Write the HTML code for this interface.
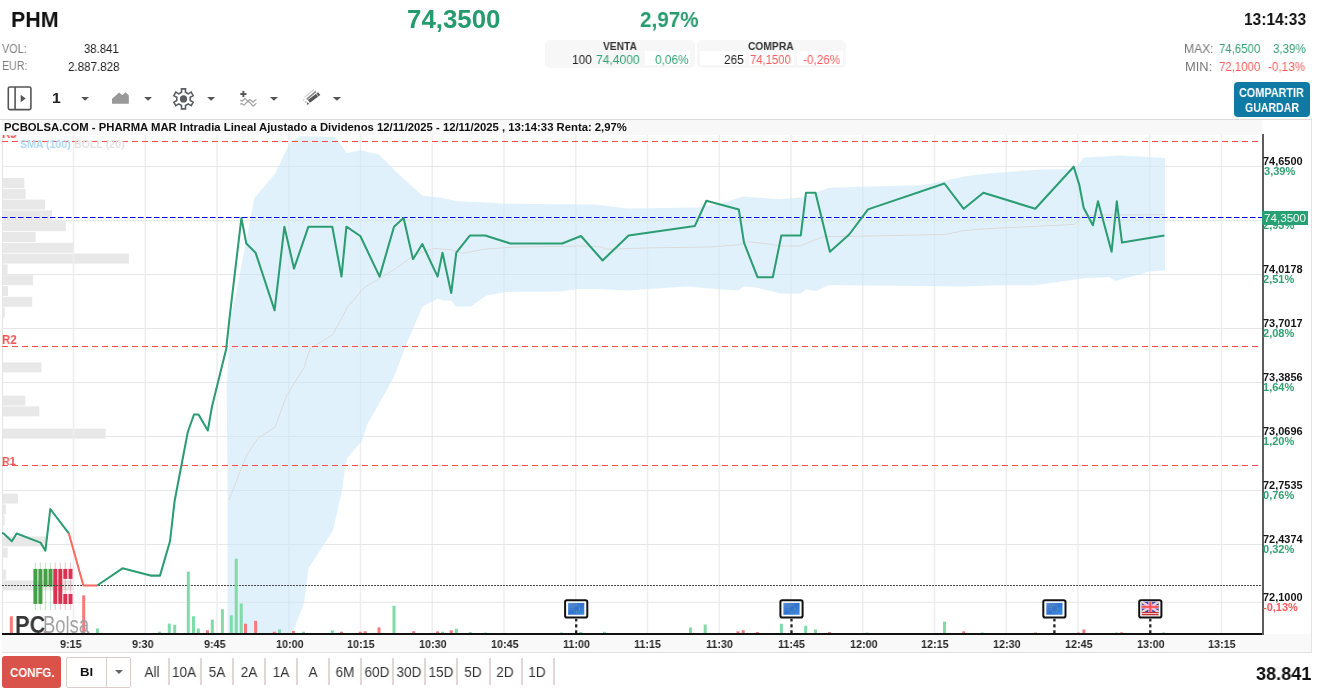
<!DOCTYPE html>
<html><head><meta charset="utf-8"><style>
*{margin:0;padding:0;box-sizing:border-box}
html,body{width:1325px;height:693px;overflow:hidden;background:#fff;font-family:"Liberation Sans",sans-serif;}
body>div{will-change:transform}
</style></head><body>
<!-- venta/compra boxes -->
<div style="position:absolute;left:545px;top:40px;width:150px;height:28px;background:#f7f7f7;border-radius:5px"></div>
<div style="position:absolute;left:697px;top:40px;width:149px;height:28px;background:#f7f7f7;border-radius:5px"></div>
<div style="position:absolute;left:645px;top:51px;width:45px;height:14px;background:#fff"></div>
<div style="position:absolute;left:700px;top:51px;width:45px;height:14px;background:#fff"></div>
<div style="position:absolute;left:749px;top:51px;width:45px;height:14px;background:#fff"></div>
<div style="position:absolute;left:797px;top:51px;width:46px;height:14px;background:#fff"></div>
<div style="position:absolute;left:1234px;top:82px;width:76px;height:35px;background:#0f7ba5;border-radius:4px"></div>
<div style="position:absolute;left:10.67px;top:7.98px;font-size:22.82px;line-height:22.82px;white-space:nowrap;color:#111;transform:scaleX(0.938);transform-origin:0 0;font-weight:bold;">PHM</div>
<div style="position:absolute;left:407.19px;top:6.71px;font-size:25.50px;line-height:25.50px;white-space:nowrap;color:#269b6e;transform:scaleX(1.014);transform-origin:0 0;font-weight:bold;">74,3500</div>
<div style="position:absolute;left:639.88px;top:8.72px;font-size:22.06px;line-height:22.06px;white-space:nowrap;color:#269b6e;transform:scaleX(0.936);transform-origin:0 0;font-weight:bold;">2,97%</div>
<div style="position:absolute;left:1244.02px;top:10.78px;font-size:17.26px;line-height:17.26px;white-space:nowrap;color:#111;transform:scaleX(0.899);transform-origin:0 0;font-weight:bold;">13:14:33</div>
<div style="position:absolute;left:2.35px;top:42.70px;font-size:12.75px;line-height:12.75px;white-space:nowrap;color:#808080;transform:scaleX(0.848);transform-origin:0 0;">VOL:</div>
<div style="position:absolute;left:83.57px;top:42.70px;font-size:12.75px;line-height:12.75px;white-space:nowrap;color:#222;transform:scaleX(0.890);transform-origin:0 0;">38.841</div>
<div style="position:absolute;left:1.53px;top:60.47px;font-size:12.79px;line-height:12.79px;white-space:nowrap;color:#808080;transform:scaleX(0.833);transform-origin:0 0;">EUR:</div>
<div style="position:absolute;left:67.92px;top:60.63px;font-size:12.61px;line-height:12.61px;white-space:nowrap;color:#222;transform:scaleX(0.920);transform-origin:0 0;">2.887.828</div>
<div style="position:absolute;left:602.63px;top:40.95px;font-size:11.05px;line-height:11.05px;white-space:nowrap;color:#333;transform:scaleX(0.924);transform-origin:0 0;font-weight:bold;">VENTA</div>
<div style="position:absolute;left:748.48px;top:41.08px;font-size:10.89px;line-height:10.89px;white-space:nowrap;color:#333;transform:scaleX(0.944);transform-origin:0 0;font-weight:bold;">COMPRA</div>
<div style="position:absolute;left:571.89px;top:53.83px;font-size:12.61px;line-height:12.61px;white-space:nowrap;color:#222;transform:scaleX(0.945);transform-origin:0 0;">100</div>
<div style="position:absolute;left:596.38px;top:53.83px;font-size:12.61px;line-height:12.61px;white-space:nowrap;color:#33a173;transform:scaleX(0.959);transform-origin:0 0;">74,4000</div>
<div style="position:absolute;left:654.84px;top:53.83px;font-size:12.61px;line-height:12.61px;white-space:nowrap;color:#33a173;transform:scaleX(0.939);transform-origin:0 0;">0,06%</div>
<div style="position:absolute;left:723.81px;top:53.83px;font-size:12.61px;line-height:12.61px;white-space:nowrap;color:#222;transform:scaleX(0.941);transform-origin:0 0;">265</div>
<div style="position:absolute;left:750.42px;top:53.83px;font-size:12.61px;line-height:12.61px;white-space:nowrap;color:#ff5a5a;transform:scaleX(0.896);transform-origin:0 0;">74,1500</div>
<div style="position:absolute;left:802.98px;top:53.83px;font-size:12.61px;line-height:12.61px;white-space:nowrap;color:#ff5a5a;transform:scaleX(0.932);transform-origin:0 0;">-0,26%</div>
<div style="position:absolute;left:1184.41px;top:42.62px;font-size:12.50px;line-height:12.50px;white-space:nowrap;color:#777;transform:scaleX(0.968);transform-origin:0 0;">MAX:</div>
<div style="position:absolute;left:1218.72px;top:42.77px;font-size:12.32px;line-height:12.32px;white-space:nowrap;color:#33a173;transform:scaleX(0.926);transform-origin:0 0;">74,6500</div>
<div style="position:absolute;left:1272.76px;top:42.77px;font-size:12.32px;line-height:12.32px;white-space:nowrap;color:#33a173;transform:scaleX(0.937);transform-origin:0 0;">3,39%</div>
<div style="position:absolute;left:1184.84px;top:60.52px;font-size:12.50px;line-height:12.50px;white-space:nowrap;color:#777;transform:scaleX(1.032);transform-origin:0 0;">MIN:</div>
<div style="position:absolute;left:1218.72px;top:60.67px;font-size:12.32px;line-height:12.32px;white-space:nowrap;color:#ff5a5a;transform:scaleX(0.926);transform-origin:0 0;">72,1000</div>
<div style="position:absolute;left:1268.28px;top:60.67px;font-size:12.32px;line-height:12.32px;white-space:nowrap;color:#ff5a5a;transform:scaleX(0.954);transform-origin:0 0;">-0,13%</div>
<div style="position:absolute;left:1239.46px;top:87.43px;font-size:12.61px;line-height:12.61px;white-space:nowrap;color:#fff;transform:scaleX(0.860);transform-origin:0 0;font-weight:bold;">COMPARTIR</div>
<div style="position:absolute;left:1244.87px;top:101.06px;font-size:13.04px;line-height:13.04px;white-space:nowrap;color:#fff;transform:scaleX(0.811);transform-origin:0 0;font-weight:bold;">GUARDAR</div>
<!-- toolbar icons -->
<svg width="360" height="30" style="position:absolute;left:0;top:84px">
<rect x="8.3" y="3" width="22.6" height="22.6" rx="1.5" fill="none" stroke="#555" stroke-width="1.6"/>
<line x1="15.1" y1="3" x2="15.1" y2="25.6" stroke="#555" stroke-width="1.6"/>
<polygon points="20.7,10.8 25.7,14.5 20.7,18.3" fill="#555"/>
<polygon points="81.2,13 89,13 85.1,16.8" fill="#555"/>
<polygon points="112,19.7 112,14.8 119.2,8.6 122.3,11.3 125.6,8.2 128.8,11.5 128.8,19.7" fill="#999"/>
<polygon points="144.2,13 152,13 148.1,16.8" fill="#555"/>
<polygon points="207.1,13 215.1,13 211.1,16.8" fill="#555"/>
<polygon points="269.9,13 278,13 273.95,16.8" fill="#555"/>
<polygon points="332.8,13 341.1,13 336.95,16.8" fill="#555"/>
<path d="M181.50,8.30 L181.50,4.90 L185.50,4.90 L185.50,8.30 L188.22,9.87 L191.16,8.17 L193.16,11.63 L190.22,13.33 L190.22,16.47 L193.16,18.17 L191.16,21.63 L188.22,19.93 L185.50,21.50 L185.50,24.90 L181.50,24.90 L181.50,21.50 L178.78,19.93 L175.84,21.63 L173.84,18.17 L176.78,16.47 L176.78,13.33 L173.84,11.63 L175.84,8.17 L178.78,9.87 Z" fill="none" stroke="#5a5e63" stroke-width="1.6" stroke-linejoin="miter"/>
<circle cx="183.5" cy="14.9" r="3.6" fill="#5a5e63"/>
<rect x="240.3" y="9.1" width="6.2" height="1.9" fill="#555"/>
<rect x="242.45" y="6.9" width="1.9" height="6.2" fill="#555"/>
<polyline points="240.3,16.2 242.1,17.1 245,14.5 247.8,16.9 249.9,15.5 253,18.1 256.4,15.3" fill="none" stroke="#a8a8a8" stroke-width="1.3"/>
<polyline points="240.3,20.4 241.7,19.5 244,21.2 247.8,17.2 249.9,18.6 253,22.1 256.4,19.3" fill="none" stroke="#a8a8a8" stroke-width="1.3"/>
<line x1="304.6" y1="13.3" x2="314.1" y2="5.3" stroke="#d4d4d4" stroke-width="1.3"/>
<line x1="306.6" y1="15.4" x2="316.0" y2="7.3" stroke="#8a8a8a" stroke-width="1.6"/>
<line x1="308.9" y1="17.4" x2="319.2" y2="9.6" stroke="#555" stroke-width="3.6"/>
<line x1="316.8" y1="11.3" x2="317.6" y2="10.7" stroke="#fff" stroke-width="4" opacity="0.5"/>
<polygon points="306.8,20.8 307.3,18.2 309.2,20.0" fill="#555"/>
<circle cx="303.6" cy="16" r="0.9" fill="#ddd"/>
<circle cx="305.7" cy="18" r="0.9" fill="#bbb"/>
</svg>
<div style="position:absolute;left:52.11px;top:90.95px;font-size:14.83px;line-height:14.83px;white-space:nowrap;color:#222;transform:scaleX(1.059);transform-origin:0 0;font-weight:bold;">1</div>
<div style="position:absolute;left:0;top:119px;width:1312px;height:1px;background:#ddd"></div>
<div style="position:absolute;left:1311px;top:119px;width:1px;height:534px;background:#e4e4e4"></div>
<div style="position:absolute;left:2px;top:120px;width:1260px;height:15px;background:#f8f8f8"></div>
<div style="position:absolute;left:2px;top:119px;width:1px;height:534px;background:#e4e4e4"></div>
<div style="position:absolute;left:2px;top:634px;width:1309px;height:18.5px;background:#f9f9f9;border-bottom:1px solid #e2e2e2"></div>
<svg width="1325" height="693" style="position:absolute;left:0;top:0">
<rect x="2.5" y="178" width="21.8" height="10" fill="#e8e8e8"/>
<rect x="2.5" y="188.8" width="23.1" height="10" fill="#e8e8e8"/>
<rect x="2.5" y="199.6" width="42.5" height="10" fill="#e8e8e8"/>
<rect x="2.5" y="210.4" width="49.5" height="10" fill="#e8e8e8"/>
<rect x="2.5" y="221.2" width="63.3" height="10" fill="#e8e8e8"/>
<rect x="2.5" y="232" width="33.2" height="10" fill="#e8e8e8"/>
<rect x="2.5" y="242.8" width="71.3" height="10" fill="#e8e8e8"/>
<rect x="2.5" y="253.6" width="126.4" height="10" fill="#e8e8e8"/>
<rect x="2.5" y="264.4" width="5.1" height="10" fill="#e8e8e8"/>
<rect x="2.5" y="275.2" width="30.4" height="10" fill="#e8e8e8"/>
<rect x="2.5" y="286" width="5.5" height="10" fill="#e8e8e8"/>
<rect x="2.5" y="296.8" width="29.7" height="10" fill="#e8e8e8"/>
<rect x="2.5" y="307.6" width="2.4" height="10" fill="#e8e8e8"/>
<rect x="2.5" y="362.4" width="39.1" height="10" fill="#e8e8e8"/>
<rect x="2.5" y="395.6" width="22.8" height="10" fill="#e8e8e8"/>
<rect x="2.5" y="406.4" width="36.8" height="10" fill="#e8e8e8"/>
<rect x="2.5" y="428.6" width="103.2" height="10" fill="#e8e8e8"/>
<rect x="2.5" y="493.6" width="15.5" height="10" fill="#e8e8e8"/>
<rect x="2.5" y="504.4" width="3.4" height="10" fill="#e8e8e8"/>
<rect x="2.5" y="515.2" width="2.0" height="10" fill="#e8e8e8"/>
<rect x="2.5" y="536.4" width="43.5" height="10" fill="#e8e8e8"/>
<rect x="2.5" y="547.6" width="5.1" height="10" fill="#e8e8e8"/>
<rect x="2.5" y="569.6" width="3.4" height="10" fill="#e8e8e8"/>
<rect x="2.5" y="580.4" width="71.0" height="10" fill="#e8e8e8"/>
<line x1="73.5" y1="135" x2="73.5" y2="634" stroke="#eeeeee" stroke-width="1.5"/>
<line x1="145.25" y1="135" x2="145.25" y2="634" stroke="#eeeeee" stroke-width="1.5"/>
<line x1="217.0" y1="135" x2="217.0" y2="634" stroke="#eeeeee" stroke-width="1.5"/>
<line x1="288.75" y1="135" x2="288.75" y2="634" stroke="#eeeeee" stroke-width="1.5"/>
<line x1="360.5" y1="135" x2="360.5" y2="634" stroke="#eeeeee" stroke-width="1.5"/>
<line x1="432.25" y1="135" x2="432.25" y2="634" stroke="#eeeeee" stroke-width="1.5"/>
<line x1="504.0" y1="135" x2="504.0" y2="634" stroke="#eeeeee" stroke-width="1.5"/>
<line x1="575.75" y1="135" x2="575.75" y2="634" stroke="#eeeeee" stroke-width="1.5"/>
<line x1="647.5" y1="135" x2="647.5" y2="634" stroke="#eeeeee" stroke-width="1.5"/>
<line x1="719.25" y1="135" x2="719.25" y2="634" stroke="#eeeeee" stroke-width="1.5"/>
<line x1="791.0" y1="135" x2="791.0" y2="634" stroke="#eeeeee" stroke-width="1.5"/>
<line x1="862.75" y1="135" x2="862.75" y2="634" stroke="#eeeeee" stroke-width="1.5"/>
<line x1="934.5" y1="135" x2="934.5" y2="634" stroke="#eeeeee" stroke-width="1.5"/>
<line x1="1006.25" y1="135" x2="1006.25" y2="634" stroke="#eeeeee" stroke-width="1.5"/>
<line x1="1078.0" y1="135" x2="1078.0" y2="634" stroke="#eeeeee" stroke-width="1.5"/>
<line x1="1149.75" y1="135" x2="1149.75" y2="634" stroke="#eeeeee" stroke-width="1.5"/>
<line x1="1221.5" y1="135" x2="1221.5" y2="634" stroke="#eeeeee" stroke-width="1.5"/>
<line x1="2" y1="166.4" x2="1262" y2="166.4" stroke="#e6e6e6" stroke-width="1"/>
<line x1="2" y1="220.4" x2="1262" y2="220.4" stroke="#e6e6e6" stroke-width="1"/>
<line x1="2" y1="274.5" x2="1262" y2="274.5" stroke="#e6e6e6" stroke-width="1"/>
<line x1="2" y1="328.5" x2="1262" y2="328.5" stroke="#e6e6e6" stroke-width="1"/>
<line x1="2" y1="382.5" x2="1262" y2="382.5" stroke="#e6e6e6" stroke-width="1"/>
<line x1="2" y1="436.5" x2="1262" y2="436.5" stroke="#e6e6e6" stroke-width="1"/>
<line x1="2" y1="490.5" x2="1262" y2="490.5" stroke="#e6e6e6" stroke-width="1"/>
<line x1="2" y1="544.5" x2="1262" y2="544.5" stroke="#e6e6e6" stroke-width="1"/>
<line x1="2" y1="602.3" x2="1262" y2="602.3" stroke="#e6e6e6" stroke-width="1"/>
<polygon points="227.6,633.0 227.6,500.0 226.7,386.5 230.5,317.3 234.8,300.0 254.4,197.9 275.2,173.4 290.5,141.6 301.0,135.9 335.8,137.3 346.7,153.2 360.3,150.3 379.0,154.6 399.2,174.8 422.3,195.6 442.5,197.9 457.0,201.3 480.0,202.2 508.8,203.7 595.4,204.5 627.1,208.6 699.2,207.4 725.2,202.2 742.5,196.4 780.0,199.3 803.0,197.3 829.0,187.8 924.2,184.9 953.0,179.0 964.6,176.3 987.7,173.4 1039.6,169.6 1075.0,169.0 1083.7,157.5 1121.2,155.5 1165.0,158.0 1165.0,270.6 1150.0,271.4 1115.4,281.0 1109.6,277.2 1086.5,278.0 1034.6,285.3 1000.0,285.3 961.7,286.4 829.0,285.0 816.0,291.0 806.0,289.6 800.2,293.7 780.4,293.6 756.2,287.5 744.0,286.6 738.0,290.6 717.0,289.0 686.8,286.6 626.4,290.6 599.2,289.0 578.0,289.0 560.0,291.5 505.7,292.0 486.0,295.7 471.0,306.6 455.8,306.6 451.3,300.5 443.8,300.5 437.7,298.7 422.6,306.6 407.9,340.4 393.5,377.9 367.5,424.0 361.7,441.3 346.7,458.7 341.5,493.3 332.9,530.8 308.4,568.3 304.0,602.9 292.5,633.2" fill="rgb(205,232,248)" fill-opacity="0.6"/>
<polyline points="229.0,500.0 246.3,455.8 257.9,438.5 275.2,426.9 286.7,395.2 304.0,367.8 309.8,349.0 332.9,334.6 347.3,307.2 364.6,287.3 393.5,270.0 413.7,255.6 433.8,248.4 451.2,249.8 462.7,253.3 485.8,249.0 514.6,247.0 583.8,246.0 601.2,247.0 607.0,249.2 653.0,247.8 710.8,247.0 739.6,244.6 748.3,241.7 768.5,244.0 780.0,246.0 800.2,246.0 806.0,243.5 823.3,236.8 944.4,234.5 964.6,230.5 982.0,229.0 1074.2,224.4 1079.3,219.5 1083.7,215.2 1165.0,214.6" fill="none" stroke="#dadada" stroke-width="1"/>
<g>
<rect x="34.8" y="562.4" width="1.2" height="47.6" fill="#3c9a3c" opacity="0.25"/>
<rect x="33.4" y="568.9" width="4" height="35" fill="#45a045"/>
<rect x="39.8" y="562.4" width="1.2" height="47.6" fill="#3c9a3c" opacity="0.25"/>
<rect x="38.4" y="568.9" width="4" height="35" fill="#45a045"/>
<rect x="44.9" y="562.4" width="1.2" height="47.6" fill="#3c9a3c" opacity="0.25"/>
<rect x="43.5" y="568.9" width="4" height="17.7" fill="#45a045"/>
<rect x="49.9" y="562.4" width="1.2" height="47.6" fill="#3c9a3c" opacity="0.25"/>
<rect x="48.5" y="568.9" width="4" height="17.7" fill="#45a045"/>
<rect x="54.699999999999996" y="562.4" width="1.2" height="47.6" fill="#e0304a" opacity="0.25"/>
<rect x="53.3" y="568.9" width="4" height="35" fill="#dc3050"/>
<rect x="59.699999999999996" y="562.4" width="1.2" height="47.6" fill="#e0304a" opacity="0.25"/>
<rect x="58.3" y="568.9" width="4" height="35" fill="#dc3050"/>
<rect x="64.7" y="562.4" width="1.2" height="47.6" fill="#e0304a" opacity="0.25"/>
<rect x="63.3" y="568.9" width="4" height="10" fill="#dc3050"/>
<rect x="63.3" y="594" width="4" height="10" fill="#dc3050"/>
<rect x="69.9" y="562.4" width="1.2" height="47.6" fill="#e0304a" opacity="0.25"/>
<rect x="68.5" y="568.9" width="4" height="10" fill="#dc3050"/>
<rect x="68.5" y="594" width="4" height="10" fill="#dc3050"/>
</g>
<line x1="2" y1="141.5" x2="1262" y2="141.5" stroke="#ff4d4d" stroke-width="1" stroke-dasharray="6,4"/>
<line x1="2" y1="346.5" x2="1262" y2="346.5" stroke="#ff4d4d" stroke-width="1" stroke-dasharray="6,4"/>
<line x1="2" y1="465.5" x2="1262" y2="465.5" stroke="#ff4d4d" stroke-width="1" stroke-dasharray="6,4"/>
<line x1="2" y1="217.5" x2="1262" y2="217.5" stroke="#0000ff" stroke-width="1" stroke-dasharray="5.5,2.5"/>
<line x1="2" y1="585.5" x2="1262" y2="585.5" stroke="#4a4a4a" stroke-width="1" stroke-dasharray="2,1"/>
<rect x="9.8" y="616.3" width="3" height="17.7" fill="#f97a7a"/>
<rect x="43.8" y="631" width="3" height="3.0" fill="#f97a7a"/>
<rect x="47.9" y="632" width="3" height="2.0" fill="#7fdca8"/>
<rect x="82.2" y="595.3" width="3" height="38.7" fill="#f97a7a"/>
<rect x="96.0" y="628.5" width="3" height="5.5" fill="#7fdca8"/>
<rect x="158.0" y="631.7" width="3" height="2.3" fill="#7fdca8"/>
<rect x="167.8" y="623.6" width="3" height="10.4" fill="#7fdca8"/>
<rect x="173.2" y="624.8" width="3" height="9.2" fill="#7fdca8"/>
<rect x="186.8" y="571.6" width="3" height="62.4" fill="#7fdca8"/>
<rect x="192.0" y="616.3" width="3" height="17.7" fill="#7fdca8"/>
<rect x="196.8" y="628.5" width="3" height="5.5" fill="#7fdca8"/>
<rect x="205.9" y="630.3" width="3" height="3.7" fill="#f97a7a"/>
<rect x="210.8" y="619.6" width="3" height="14.4" fill="#7fdca8"/>
<rect x="220.9" y="609.2" width="3" height="24.8" fill="#7fdca8"/>
<rect x="229.8" y="615.3" width="3" height="18.7" fill="#7fdca8"/>
<rect x="234.7" y="558.7" width="3" height="75.3" fill="#7fdca8"/>
<rect x="239.7" y="603.5" width="3" height="30.5" fill="#7fdca8"/>
<rect x="244.0" y="623.7" width="3" height="10.3" fill="#f97a7a"/>
<rect x="254.1" y="620.8" width="3" height="13.2" fill="#f97a7a"/>
<rect x="272.8" y="631.7" width="3" height="2.3" fill="#f97a7a"/>
<rect x="278.0" y="629.4" width="3" height="4.6" fill="#7fdca8"/>
<rect x="291.9" y="630.9" width="3" height="3.1" fill="#f97a7a"/>
<rect x="302.0" y="631.7" width="3" height="2.3" fill="#7fdca8"/>
<rect x="330.8" y="630.3" width="3" height="3.7" fill="#7fdca8"/>
<rect x="340.0" y="631.7" width="3" height="2.3" fill="#f97a7a"/>
<rect x="358.8" y="631.7" width="3" height="2.3" fill="#f97a7a"/>
<rect x="363.7" y="631.2" width="3" height="2.8" fill="#f97a7a"/>
<rect x="377.5" y="627.4" width="3" height="6.6" fill="#f97a7a"/>
<rect x="392.5" y="605.8" width="3" height="28.2" fill="#7fdca8"/>
<rect x="412.2" y="631.2" width="3" height="2.8" fill="#f97a7a"/>
<rect x="436.1" y="631.4" width="3" height="2.6" fill="#f97a7a"/>
<rect x="441.0" y="631.7" width="3" height="2.3" fill="#7fdca8"/>
<rect x="449.7" y="630.3" width="3" height="3.7" fill="#f97a7a"/>
<rect x="454.8" y="628.8" width="3" height="5.2" fill="#7fdca8"/>
<rect x="468.7" y="632" width="3" height="2.0" fill="#7fdca8"/>
<rect x="483.9" y="632.5" width="3" height="1.5" fill="#7fdca8"/>
<rect x="559.9" y="632.5" width="3" height="1.5" fill="#7fdca8"/>
<rect x="579.2" y="632" width="3" height="2.0" fill="#7fdca8"/>
<rect x="603.0" y="631.8" width="3" height="2.2" fill="#7fdca8"/>
<rect x="689.0" y="627.5" width="3" height="6.5" fill="#7fdca8"/>
<rect x="703.7" y="624.5" width="3" height="9.5" fill="#7fdca8"/>
<rect x="736.5" y="631.3" width="3" height="2.7" fill="#f97a7a"/>
<rect x="741.7" y="630.2" width="3" height="3.8" fill="#f97a7a"/>
<rect x="755.8" y="632" width="3" height="2.0" fill="#f97a7a"/>
<rect x="779.9" y="623.8" width="3" height="10.2" fill="#7fdca8"/>
<rect x="804.2" y="625.7" width="3" height="8.3" fill="#7fdca8"/>
<rect x="813.9" y="629.5" width="3" height="4.5" fill="#7fdca8"/>
<rect x="827.9" y="632" width="3" height="2.0" fill="#f97a7a"/>
<rect x="865.7" y="632.5" width="3" height="1.5" fill="#7fdca8"/>
<rect x="943.0" y="621.6" width="3" height="12.4" fill="#7fdca8"/>
<rect x="962.2" y="631.3" width="3" height="2.7" fill="#f97a7a"/>
<rect x="980.8" y="632.5" width="3" height="1.5" fill="#7fdca8"/>
<rect x="1034.0" y="632.5" width="3" height="1.5" fill="#f97a7a"/>
<rect x="1077.0" y="632.5" width="3" height="1.5" fill="#f97a7a"/>
<rect x="1082.4" y="629.5" width="3" height="4.5" fill="#f97a7a"/>
<rect x="1115.0" y="632.5" width="3" height="1.5" fill="#7fdca8"/>
<rect x="1119.9" y="632.3" width="3" height="1.7" fill="#f97a7a"/>
<rect x="1162.3" y="632.3" width="3" height="1.7" fill="#7fdca8"/>
<polyline points="2.0,533.0 3.7,533.5 11.8,541.3 16.7,533.5 40.5,542.6 45.4,550.7 50.3,509.0 68.8,533.3" fill="none" stroke="#2c9d72" stroke-width="2.05" stroke-linejoin="round"/>
<polyline points="68.8,533.3 83.4,585.5 97.2,585.5" fill="none" stroke="#f86a62" stroke-width="2.05" stroke-linejoin="round"/>
<polyline points="97.2,585.5 122.5,568.3 150.5,575.6 160.0,575.6 170.0,541.3 174.6,501.0 187.8,432.0 194.0,414.5 198.5,414.5 207.8,430.5 212.0,406.5 226.2,349.0 229.6,317.3 241.4,218.0 246.3,243.5 255.6,252.7 274.6,310.4 284.4,226.7 294.0,268.6 308.4,226.7 332.3,226.7 341.5,276.6 346.4,226.7 360.3,236.0 379.6,276.6 394.0,226.7 403.6,218.0 413.0,259.3 422.3,244.0 437.6,276.6 442.5,252.7 451.2,293.0 456.3,252.7 470.0,235.4 485.2,235.4 510.3,243.5 562.2,243.5 581.0,236.0 602.6,260.5 628.6,235.4 694.9,225.9 706.4,200.8 738.8,209.4 744.0,242.6 757.5,277.2 772.8,277.2 781.4,235.4 800.8,235.4 806.0,192.7 815.5,192.7 829.9,251.8 849.2,234.5 868.0,209.4 944.4,183.5 963.7,208.8 983.4,192.7 1035.3,208.8 1073.7,166.7 1079.3,184.9 1083.7,208.0 1092.9,225.3 1098.0,201.3 1111.6,251.8 1116.8,201.3 1122.0,242.6 1164.4,235.4" fill="none" stroke="#2c9d72" stroke-width="2.05" stroke-linejoin="round"/>
<rect x="575.0500000000001" y="618.8" width="2.3" height="2.6000000000000227" fill="#222"/><rect x="575.0500000000001" y="624.3" width="2.3" height="3.1000000000000227" fill="#222"/><rect x="575.0500000000001" y="630.3" width="2.3" height="3.2000000000000455" fill="#222"/><rect x="565.1" y="600.2" width="22.2" height="17.3" rx="1.8" fill="#fff" stroke="#111" stroke-width="2"/><defs><linearGradient id="eu576" x1="0" y1="0" x2="1" y2="1"><stop offset="0" stop-color="#5d8fd8"/><stop offset="0.5" stop-color="#2f72cf"/><stop offset="1" stop-color="#3d8fe8"/></linearGradient></defs><rect x="568.1" y="602.9" width="16.2" height="11.85" fill="url(#eu576)"/><circle cx="576.2" cy="608.6" r="3.4" fill="none" stroke="#b8c060" stroke-width="0.7" stroke-dasharray="1,1.2" opacity="0.8"/>
<rect x="790.35" y="618.8" width="2.3" height="2.6000000000000227" fill="#222"/><rect x="790.35" y="624.3" width="2.3" height="3.1000000000000227" fill="#222"/><rect x="790.35" y="630.3" width="2.3" height="3.2000000000000455" fill="#222"/><rect x="780.4" y="600.2" width="22.2" height="17.3" rx="1.8" fill="#fff" stroke="#111" stroke-width="2"/><defs><linearGradient id="eu791" x1="0" y1="0" x2="1" y2="1"><stop offset="0" stop-color="#5d8fd8"/><stop offset="0.5" stop-color="#2f72cf"/><stop offset="1" stop-color="#3d8fe8"/></linearGradient></defs><rect x="783.4" y="602.9" width="16.2" height="11.85" fill="url(#eu791)"/><circle cx="791.5" cy="608.6" r="3.4" fill="none" stroke="#b8c060" stroke-width="0.7" stroke-dasharray="1,1.2" opacity="0.8"/>
<rect x="1053.25" y="618.8" width="2.3" height="2.6000000000000227" fill="#222"/><rect x="1053.25" y="624.3" width="2.3" height="3.1000000000000227" fill="#222"/><rect x="1053.25" y="630.3" width="2.3" height="3.2000000000000455" fill="#222"/><rect x="1043.3000000000002" y="600.2" width="22.2" height="17.3" rx="1.8" fill="#fff" stroke="#111" stroke-width="2"/><defs><linearGradient id="eu1054" x1="0" y1="0" x2="1" y2="1"><stop offset="0" stop-color="#5d8fd8"/><stop offset="0.5" stop-color="#2f72cf"/><stop offset="1" stop-color="#3d8fe8"/></linearGradient></defs><rect x="1046.3000000000002" y="602.9" width="16.2" height="11.85" fill="url(#eu1054)"/><circle cx="1054.4" cy="608.6" r="3.4" fill="none" stroke="#b8c060" stroke-width="0.7" stroke-dasharray="1,1.2" opacity="0.8"/>
<rect x="1149.1499999999999" y="618.8" width="2.3" height="2.6000000000000227" fill="#222"/><rect x="1149.1499999999999" y="624.3" width="2.3" height="3.1000000000000227" fill="#222"/><rect x="1149.1499999999999" y="630.3" width="2.3" height="3.2000000000000455" fill="#222"/><rect x="1139.2" y="600.2" width="22.2" height="17.3" rx="1.8" fill="#fff" stroke="#111" stroke-width="2"/><rect x="1141.7" y="601.8" width="17.0" height="10.4" fill="#2f4fa8"/><line x1="1141.7" y1="601.8" x2="1158.7" y2="612.2" stroke="#f4d0d0" stroke-width="2.2"/><line x1="1158.7" y1="601.8" x2="1141.7" y2="612.2" stroke="#f4d0d0" stroke-width="2.2"/><rect x="1141.7" y="605.2" width="17.0" height="3.4" fill="#fbe"/><rect x="1148.3999999999999" y="601.8" width="3.8" height="10.4" fill="#fbe"/><rect x="1141.7" y="605.9" width="17.0" height="2" fill="#f55"/><rect x="1149.2" y="601.8" width="2.2" height="10.4" fill="#f55"/><rect x="1141.7" y="612" width="17.0" height="1.3" fill="#c33"/><rect x="1141.7" y="614.1" width="17.0" height="1.2" fill="#b22"/>
</svg>
<div style="position:absolute;left:1261.6px;top:133.5px;width:1.7px;height:500.5px;background:#5c5c5c"></div>
<div style="position:absolute;left:2px;top:633px;width:1260px;height:1.8px;background:#111"></div>
<div style="position:absolute;left:19.89px;top:137.65px;font-size:11.63px;line-height:11.63px;white-space:nowrap;color:#aad9f7;transform:scaleX(0.908);transform-origin:0 0;font-weight:bold;">SMA (100)</div>
<div style="position:absolute;left:74.19px;top:137.65px;font-size:11.63px;line-height:11.63px;white-space:nowrap;color:#e2e2e2;transform:scaleX(0.913);transform-origin:0 0;font-weight:bold;">BOLL (20)</div>
<div style="position:absolute;left:1.54px;top:129.23px;font-size:11.89px;line-height:11.89px;white-space:nowrap;color:#f05555;transform:scaleX(0.959);transform-origin:0 0;font-weight:bold;">R3</div>
<div style="position:absolute;left:2px;top:120px;width:1260px;height:15px;background:#f8f8f8"></div>
<div style="position:absolute;left:3.74px;top:121.95px;font-size:11.05px;line-height:11.05px;white-space:nowrap;color:#111;transform:scaleX(1.022);transform-origin:0 0;font-weight:bold;">PCBOLSA.COM - PHARMA MAR Intradia Lineal Ajustado a Dividenos 12/11/2025 - 12/11/2025 , 13:14:33 Renta: 2,97%</div>
<div style="position:absolute;left:1.53px;top:334.37px;font-size:12.32px;line-height:12.32px;white-space:nowrap;color:#f05555;transform:scaleX(0.929);transform-origin:0 0;font-weight:bold;">R2</div>
<div style="position:absolute;left:1.58px;top:455.03px;font-size:11.77px;line-height:11.77px;white-space:nowrap;color:#f05555;transform:scaleX(0.912);transform-origin:0 0;font-weight:bold;">R1</div>
<div style="position:absolute;left:14.74px;top:613.24px;font-size:23.93px;line-height:23.93px;white-space:nowrap;color:#383838;transform:scaleX(0.913);transform-origin:0 0;font-weight:bold;">PC</div>
<div style="position:absolute;left:43.29px;top:613.06px;font-size:24.14px;line-height:24.14px;white-space:nowrap;color:#a0a0a0;transform:scaleX(0.764);transform-origin:0 0;">Bolsa</div>
<div style="position:absolute;left:1263.55px;top:165.78px;font-size:10.89px;line-height:10.89px;font-weight:bold;color:#33a173;white-space:nowrap;transform:scaleX(1.013);transform-origin:0 0">3,39%</div>
<div style="position:absolute;left:1263.33px;top:155.68px;font-size:10.89px;line-height:10.89px;font-weight:bold;color:#151515;white-space:nowrap;transform:scaleX(1.007);transform-origin:0 0">74,6500</div>
<div style="position:absolute;left:1263.41px;top:219.78px;font-size:10.89px;line-height:10.89px;font-weight:bold;color:#33a173;white-space:nowrap;transform:scaleX(1.013);transform-origin:0 0">2,93%</div>
<div style="position:absolute;left:1263.33px;top:209.68px;font-size:10.89px;line-height:10.89px;font-weight:bold;color:#151515;white-space:nowrap;transform:scaleX(1.007);transform-origin:0 0">74,3500</div>
<div style="position:absolute;left:1263.41px;top:273.88px;font-size:10.89px;line-height:10.89px;font-weight:bold;color:#33a173;white-space:nowrap;transform:scaleX(1.013);transform-origin:0 0">2,51%</div>
<div style="position:absolute;left:1263.33px;top:263.78px;font-size:10.89px;line-height:10.89px;font-weight:bold;color:#151515;white-space:nowrap;transform:scaleX(1.007);transform-origin:0 0">74,0178</div>
<div style="position:absolute;left:1263.41px;top:327.88px;font-size:10.89px;line-height:10.89px;font-weight:bold;color:#33a173;white-space:nowrap;transform:scaleX(1.013);transform-origin:0 0">2,08%</div>
<div style="position:absolute;left:1263.33px;top:317.78px;font-size:10.89px;line-height:10.89px;font-weight:bold;color:#151515;white-space:nowrap;transform:scaleX(1.007);transform-origin:0 0">73,7017</div>
<div style="position:absolute;left:1263.11px;top:381.88px;font-size:10.89px;line-height:10.89px;font-weight:bold;color:#33a173;white-space:nowrap;transform:scaleX(1.013);transform-origin:0 0">1,64%</div>
<div style="position:absolute;left:1263.33px;top:371.78px;font-size:10.89px;line-height:10.89px;font-weight:bold;color:#151515;white-space:nowrap;transform:scaleX(1.007);transform-origin:0 0">73,3856</div>
<div style="position:absolute;left:1263.11px;top:435.88px;font-size:10.89px;line-height:10.89px;font-weight:bold;color:#33a173;white-space:nowrap;transform:scaleX(1.013);transform-origin:0 0">1,20%</div>
<div style="position:absolute;left:1263.33px;top:425.78px;font-size:10.89px;line-height:10.89px;font-weight:bold;color:#151515;white-space:nowrap;transform:scaleX(1.007);transform-origin:0 0">73,0696</div>
<div style="position:absolute;left:1263.36px;top:489.88px;font-size:10.89px;line-height:10.89px;font-weight:bold;color:#33a173;white-space:nowrap;transform:scaleX(1.013);transform-origin:0 0">0,76%</div>
<div style="position:absolute;left:1263.33px;top:479.78px;font-size:10.89px;line-height:10.89px;font-weight:bold;color:#151515;white-space:nowrap;transform:scaleX(1.007);transform-origin:0 0">72,7535</div>
<div style="position:absolute;left:1263.36px;top:543.88px;font-size:10.89px;line-height:10.89px;font-weight:bold;color:#33a173;white-space:nowrap;transform:scaleX(1.013);transform-origin:0 0">0,32%</div>
<div style="position:absolute;left:1263.33px;top:533.78px;font-size:10.89px;line-height:10.89px;font-weight:bold;color:#151515;white-space:nowrap;transform:scaleX(1.007);transform-origin:0 0">72,4374</div>
<div style="position:absolute;left:1263.37px;top:601.68px;font-size:10.89px;line-height:10.89px;font-weight:bold;color:#ff5a5a;white-space:nowrap;transform:scaleX(1.013);transform-origin:0 0">-0,13%</div>
<div style="position:absolute;left:1263.33px;top:591.58px;font-size:10.89px;line-height:10.89px;font-weight:bold;color:#151515;white-space:nowrap;transform:scaleX(1.007);transform-origin:0 0">72,1000</div>
<div style="position:absolute;left:1261.5px;top:211px;width:46.3px;height:14.1px;background:#27a073"></div>
<div style="position:absolute;left:1263.71px;top:213.67px;font-size:10.32px;line-height:10.32px;white-space:nowrap;color:#f4fbf8;transform:scaleX(1.128);transform-origin:0 0;">74,3500</div>
<div style="position:absolute;left:60.47px;top:638.17px;font-size:11.60px;line-height:11.60px;font-weight:bold;color:#262626;white-space:nowrap;transform:scaleX(0.931);transform-origin:0 0;text-shadow:0 0 2px #fff,0 0 2px #fff">9:15</div>
<div style="position:absolute;left:132.22px;top:638.17px;font-size:11.60px;line-height:11.60px;font-weight:bold;color:#262626;white-space:nowrap;transform:scaleX(0.931);transform-origin:0 0;text-shadow:0 0 2px #fff,0 0 2px #fff">9:30</div>
<div style="position:absolute;left:203.97px;top:638.17px;font-size:11.60px;line-height:11.60px;font-weight:bold;color:#262626;white-space:nowrap;transform:scaleX(0.931);transform-origin:0 0;text-shadow:0 0 2px #fff,0 0 2px #fff">9:45</div>
<div style="position:absolute;left:275.72px;top:638.17px;font-size:11.60px;line-height:11.60px;font-weight:bold;color:#262626;white-space:nowrap;transform:scaleX(0.931);transform-origin:0 0;text-shadow:0 0 2px #fff,0 0 2px #fff">10:00</div>
<div style="position:absolute;left:347.47px;top:638.17px;font-size:11.60px;line-height:11.60px;font-weight:bold;color:#262626;white-space:nowrap;transform:scaleX(0.931);transform-origin:0 0;text-shadow:0 0 2px #fff,0 0 2px #fff">10:15</div>
<div style="position:absolute;left:419.22px;top:638.17px;font-size:11.60px;line-height:11.60px;font-weight:bold;color:#262626;white-space:nowrap;transform:scaleX(0.931);transform-origin:0 0;text-shadow:0 0 2px #fff,0 0 2px #fff">10:30</div>
<div style="position:absolute;left:490.97px;top:638.17px;font-size:11.60px;line-height:11.60px;font-weight:bold;color:#262626;white-space:nowrap;transform:scaleX(0.931);transform-origin:0 0;text-shadow:0 0 2px #fff,0 0 2px #fff">10:45</div>
<div style="position:absolute;left:562.72px;top:638.17px;font-size:11.60px;line-height:11.60px;font-weight:bold;color:#262626;white-space:nowrap;transform:scaleX(0.931);transform-origin:0 0;text-shadow:0 0 2px #fff,0 0 2px #fff">11:00</div>
<div style="position:absolute;left:634.47px;top:638.17px;font-size:11.60px;line-height:11.60px;font-weight:bold;color:#262626;white-space:nowrap;transform:scaleX(0.931);transform-origin:0 0;text-shadow:0 0 2px #fff,0 0 2px #fff">11:15</div>
<div style="position:absolute;left:706.22px;top:638.17px;font-size:11.60px;line-height:11.60px;font-weight:bold;color:#262626;white-space:nowrap;transform:scaleX(0.931);transform-origin:0 0;text-shadow:0 0 2px #fff,0 0 2px #fff">11:30</div>
<div style="position:absolute;left:777.97px;top:638.17px;font-size:11.60px;line-height:11.60px;font-weight:bold;color:#262626;white-space:nowrap;transform:scaleX(0.931);transform-origin:0 0;text-shadow:0 0 2px #fff,0 0 2px #fff">11:45</div>
<div style="position:absolute;left:849.72px;top:638.17px;font-size:11.60px;line-height:11.60px;font-weight:bold;color:#262626;white-space:nowrap;transform:scaleX(0.931);transform-origin:0 0;text-shadow:0 0 2px #fff,0 0 2px #fff">12:00</div>
<div style="position:absolute;left:921.47px;top:638.17px;font-size:11.60px;line-height:11.60px;font-weight:bold;color:#262626;white-space:nowrap;transform:scaleX(0.931);transform-origin:0 0;text-shadow:0 0 2px #fff,0 0 2px #fff">12:15</div>
<div style="position:absolute;left:993.22px;top:638.17px;font-size:11.60px;line-height:11.60px;font-weight:bold;color:#262626;white-space:nowrap;transform:scaleX(0.931);transform-origin:0 0;text-shadow:0 0 2px #fff,0 0 2px #fff">12:30</div>
<div style="position:absolute;left:1064.97px;top:638.17px;font-size:11.60px;line-height:11.60px;font-weight:bold;color:#262626;white-space:nowrap;transform:scaleX(0.931);transform-origin:0 0;text-shadow:0 0 2px #fff,0 0 2px #fff">12:45</div>
<div style="position:absolute;left:1136.72px;top:638.17px;font-size:11.60px;line-height:11.60px;font-weight:bold;color:#262626;white-space:nowrap;transform:scaleX(0.931);transform-origin:0 0;text-shadow:0 0 2px #fff,0 0 2px #fff">13:00</div>
<div style="position:absolute;left:1208.47px;top:638.17px;font-size:11.60px;line-height:11.60px;font-weight:bold;color:#262626;white-space:nowrap;transform:scaleX(0.931);transform-origin:0 0;text-shadow:0 0 2px #fff,0 0 2px #fff">13:15</div>
<!-- bottom toolbar -->
<div style="position:absolute;left:2.3px;top:656px;width:59.2px;height:31.7px;background:#d9534a;border-radius:3px"></div>
<div style="position:absolute;left:10.13px;top:667.11px;font-size:12.03px;line-height:12.03px;white-space:nowrap;color:#fff;transform:scaleX(0.952);transform-origin:0 0;font-weight:bold;">CONFG.</div>
<div style="position:absolute;left:66px;top:657px;width:64.5px;height:30.7px;border:1px solid #dccccc;border-radius:2px"></div>
<div style="position:absolute;left:106px;top:657px;width:1px;height:30.7px;background:#dccccc"></div>
<div style="position:absolute;left:80.21px;top:666.37px;font-size:11.72px;line-height:11.72px;white-space:nowrap;color:#111;transform:scaleX(1.128);transform-origin:0 0;font-weight:bold;">Bl</div>
<div style="position:absolute;left:115.2px;top:670px;width:0;height:0;border-left:4px solid transparent;border-right:4px solid transparent;border-top:4.2px solid #666"></div>
<div style="position:absolute;left:112.40px;top:664.87px;width:80px;text-align:center;font-size:14.33px;line-height:14.33px;color:#333;white-space:nowrap;transform:scaleX(0.944);transform-origin:50% 0">All</div>
<div style="position:absolute;left:168.00px;top:657.5px;width:1.5px;height:27px;background:#e3d6d6"></div>
<div style="position:absolute;left:144.45px;top:664.87px;width:80px;text-align:center;font-size:14.33px;line-height:14.33px;color:#333;white-space:nowrap;transform:scaleX(0.944);transform-origin:50% 0">10A</div>
<div style="position:absolute;left:200.05px;top:657.5px;width:1.5px;height:27px;background:#e3d6d6"></div>
<div style="position:absolute;left:176.50px;top:664.87px;width:80px;text-align:center;font-size:14.33px;line-height:14.33px;color:#333;white-space:nowrap;transform:scaleX(0.944);transform-origin:50% 0">5A</div>
<div style="position:absolute;left:232.10px;top:657.5px;width:1.5px;height:27px;background:#e3d6d6"></div>
<div style="position:absolute;left:208.55px;top:664.87px;width:80px;text-align:center;font-size:14.33px;line-height:14.33px;color:#333;white-space:nowrap;transform:scaleX(0.944);transform-origin:50% 0">2A</div>
<div style="position:absolute;left:264.15px;top:657.5px;width:1.5px;height:27px;background:#e3d6d6"></div>
<div style="position:absolute;left:240.60px;top:664.87px;width:80px;text-align:center;font-size:14.33px;line-height:14.33px;color:#333;white-space:nowrap;transform:scaleX(0.944);transform-origin:50% 0">1A</div>
<div style="position:absolute;left:296.20px;top:657.5px;width:1.5px;height:27px;background:#e3d6d6"></div>
<div style="position:absolute;left:272.65px;top:664.87px;width:80px;text-align:center;font-size:14.33px;line-height:14.33px;color:#333;white-space:nowrap;transform:scaleX(0.944);transform-origin:50% 0">A</div>
<div style="position:absolute;left:328.25px;top:657.5px;width:1.5px;height:27px;background:#e3d6d6"></div>
<div style="position:absolute;left:304.70px;top:664.87px;width:80px;text-align:center;font-size:14.33px;line-height:14.33px;color:#333;white-space:nowrap;transform:scaleX(0.944);transform-origin:50% 0">6M</div>
<div style="position:absolute;left:360.30px;top:657.5px;width:1.5px;height:27px;background:#e3d6d6"></div>
<div style="position:absolute;left:336.75px;top:664.87px;width:80px;text-align:center;font-size:14.33px;line-height:14.33px;color:#333;white-space:nowrap;transform:scaleX(0.944);transform-origin:50% 0">60D</div>
<div style="position:absolute;left:392.35px;top:657.5px;width:1.5px;height:27px;background:#e3d6d6"></div>
<div style="position:absolute;left:368.80px;top:664.87px;width:80px;text-align:center;font-size:14.33px;line-height:14.33px;color:#333;white-space:nowrap;transform:scaleX(0.944);transform-origin:50% 0">30D</div>
<div style="position:absolute;left:424.40px;top:657.5px;width:1.5px;height:27px;background:#e3d6d6"></div>
<div style="position:absolute;left:400.85px;top:664.87px;width:80px;text-align:center;font-size:14.33px;line-height:14.33px;color:#333;white-space:nowrap;transform:scaleX(0.944);transform-origin:50% 0">15D</div>
<div style="position:absolute;left:456.45px;top:657.5px;width:1.5px;height:27px;background:#e3d6d6"></div>
<div style="position:absolute;left:432.90px;top:664.87px;width:80px;text-align:center;font-size:14.33px;line-height:14.33px;color:#333;white-space:nowrap;transform:scaleX(0.944);transform-origin:50% 0">5D</div>
<div style="position:absolute;left:488.50px;top:657.5px;width:1.5px;height:27px;background:#e3d6d6"></div>
<div style="position:absolute;left:464.95px;top:664.87px;width:80px;text-align:center;font-size:14.33px;line-height:14.33px;color:#333;white-space:nowrap;transform:scaleX(0.944);transform-origin:50% 0">2D</div>
<div style="position:absolute;left:520.55px;top:657.5px;width:1.5px;height:27px;background:#e3d6d6"></div>
<div style="position:absolute;left:497.00px;top:664.87px;width:80px;text-align:center;font-size:14.33px;line-height:14.33px;color:#333;white-space:nowrap;transform:scaleX(0.944);transform-origin:50% 0">1D</div>
<div style="position:absolute;left:552.60px;top:657.5px;width:1.5px;height:27px;background:#e3d6d6"></div>
<div style="position:absolute;left:1255.58px;top:664.85px;font-size:18.48px;line-height:18.48px;white-space:nowrap;color:#111;transform:scaleX(0.979);transform-origin:0 0;font-weight:bold;">38.841</div>
</body></html>
